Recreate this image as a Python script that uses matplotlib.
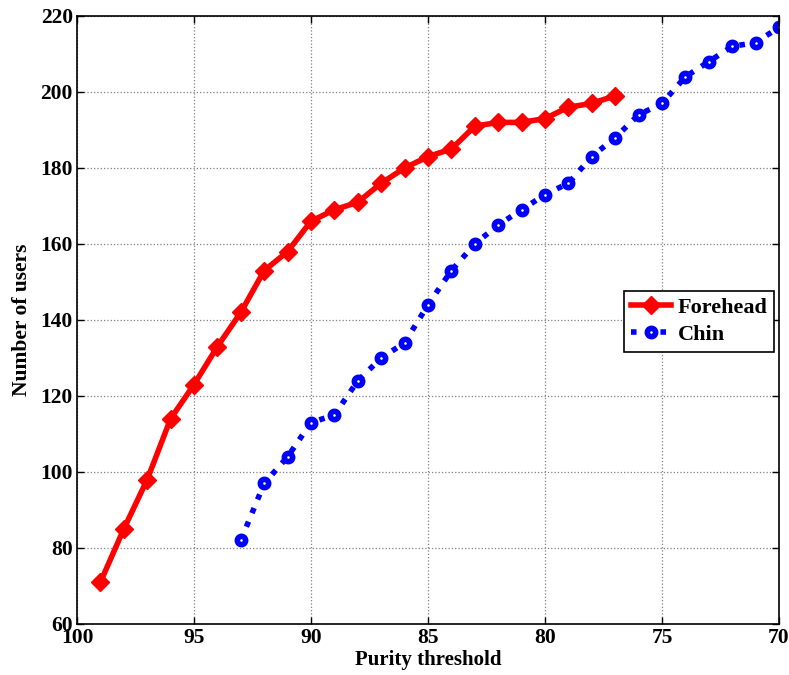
import matplotlib
matplotlib.use("Agg")
import matplotlib.pyplot as plt

forehead_x = list(range(99, 76, -1))
forehead_y = [71, 85, 98, 114, 123, 133, 142, 153, 158, 166, 169, 171, 176, 180,
              183, 185, 191, 192, 192, 193, 196, 197, 199]
chin_x = list(range(93, 69, -1))
chin_y = [82, 97, 104, 113, 115, 124, 130, 134, 144, 153, 160, 165, 169, 173,
          176, 183, 188, 194, 197, 204, 208, 212, 213, 217]
xticks = [100, 95, 90, 85, 80, 75, 70]
yticks = [60, 80, 100, 120, 140, 160, 180, 200, 220]

plt.rcParams['font.family'] = ['Liberation Serif', 'DejaVu Serif']
plt.rcParams['font.weight'] = 'bold'

fig = plt.figure(figsize=(7.89, 6.75), dpi=100)
ax = fig.add_axes([0.0976, 0.0756, 0.8897, 0.9007])

ax.plot(forehead_x, forehead_y, color='red', linestyle='-', linewidth=4,
        marker='D', markersize=9, markerfacecolor='red', markeredgecolor='red',
        label='Forehead')
ax.plot(chin_x, chin_y, color='blue', linestyle=':', linewidth=4,
        marker='o', markersize=6, markerfacecolor='white', markeredgecolor='blue',
        markeredgewidth=4, label='Chin')

ax.set_xlim(100, 70)
ax.set_ylim(60, 220)
ax.set_xticks(xticks)
ax.set_yticks(yticks)
ax.set_xticklabels([str(v) for v in xticks], fontsize=15.5, fontweight='bold')
ax.set_yticklabels([str(v) for v in yticks], fontsize=15.5, fontweight='bold')
ax.tick_params(direction='in', length=5, width=1, top=True, right=True, pad=3)
ax.grid(True, color='#808080', linestyle=':', linewidth=0.9)
ax.set_axisbelow(True)
for s in ax.spines.values():
    s.set_linewidth(1.2)

ax.set_xlabel('Purity threshold', fontsize=15, fontweight='bold', labelpad=1)
ax.set_ylabel('Number of users', fontsize=15.5, fontweight='bold', labelpad=6)

leg = ax.legend(loc='upper right', bbox_to_anchor=(0.993, 0.548), borderaxespad=0,
                fancybox=False, framealpha=1, edgecolor='black',
                prop={'size': 16, 'weight': 'bold'}, handlelength=1.8,
                borderpad=0.3, labelspacing=0.3, handletextpad=0.3)
leg.get_frame().set_linewidth(1.2)

fig.savefig('out.png', dpi=100)
